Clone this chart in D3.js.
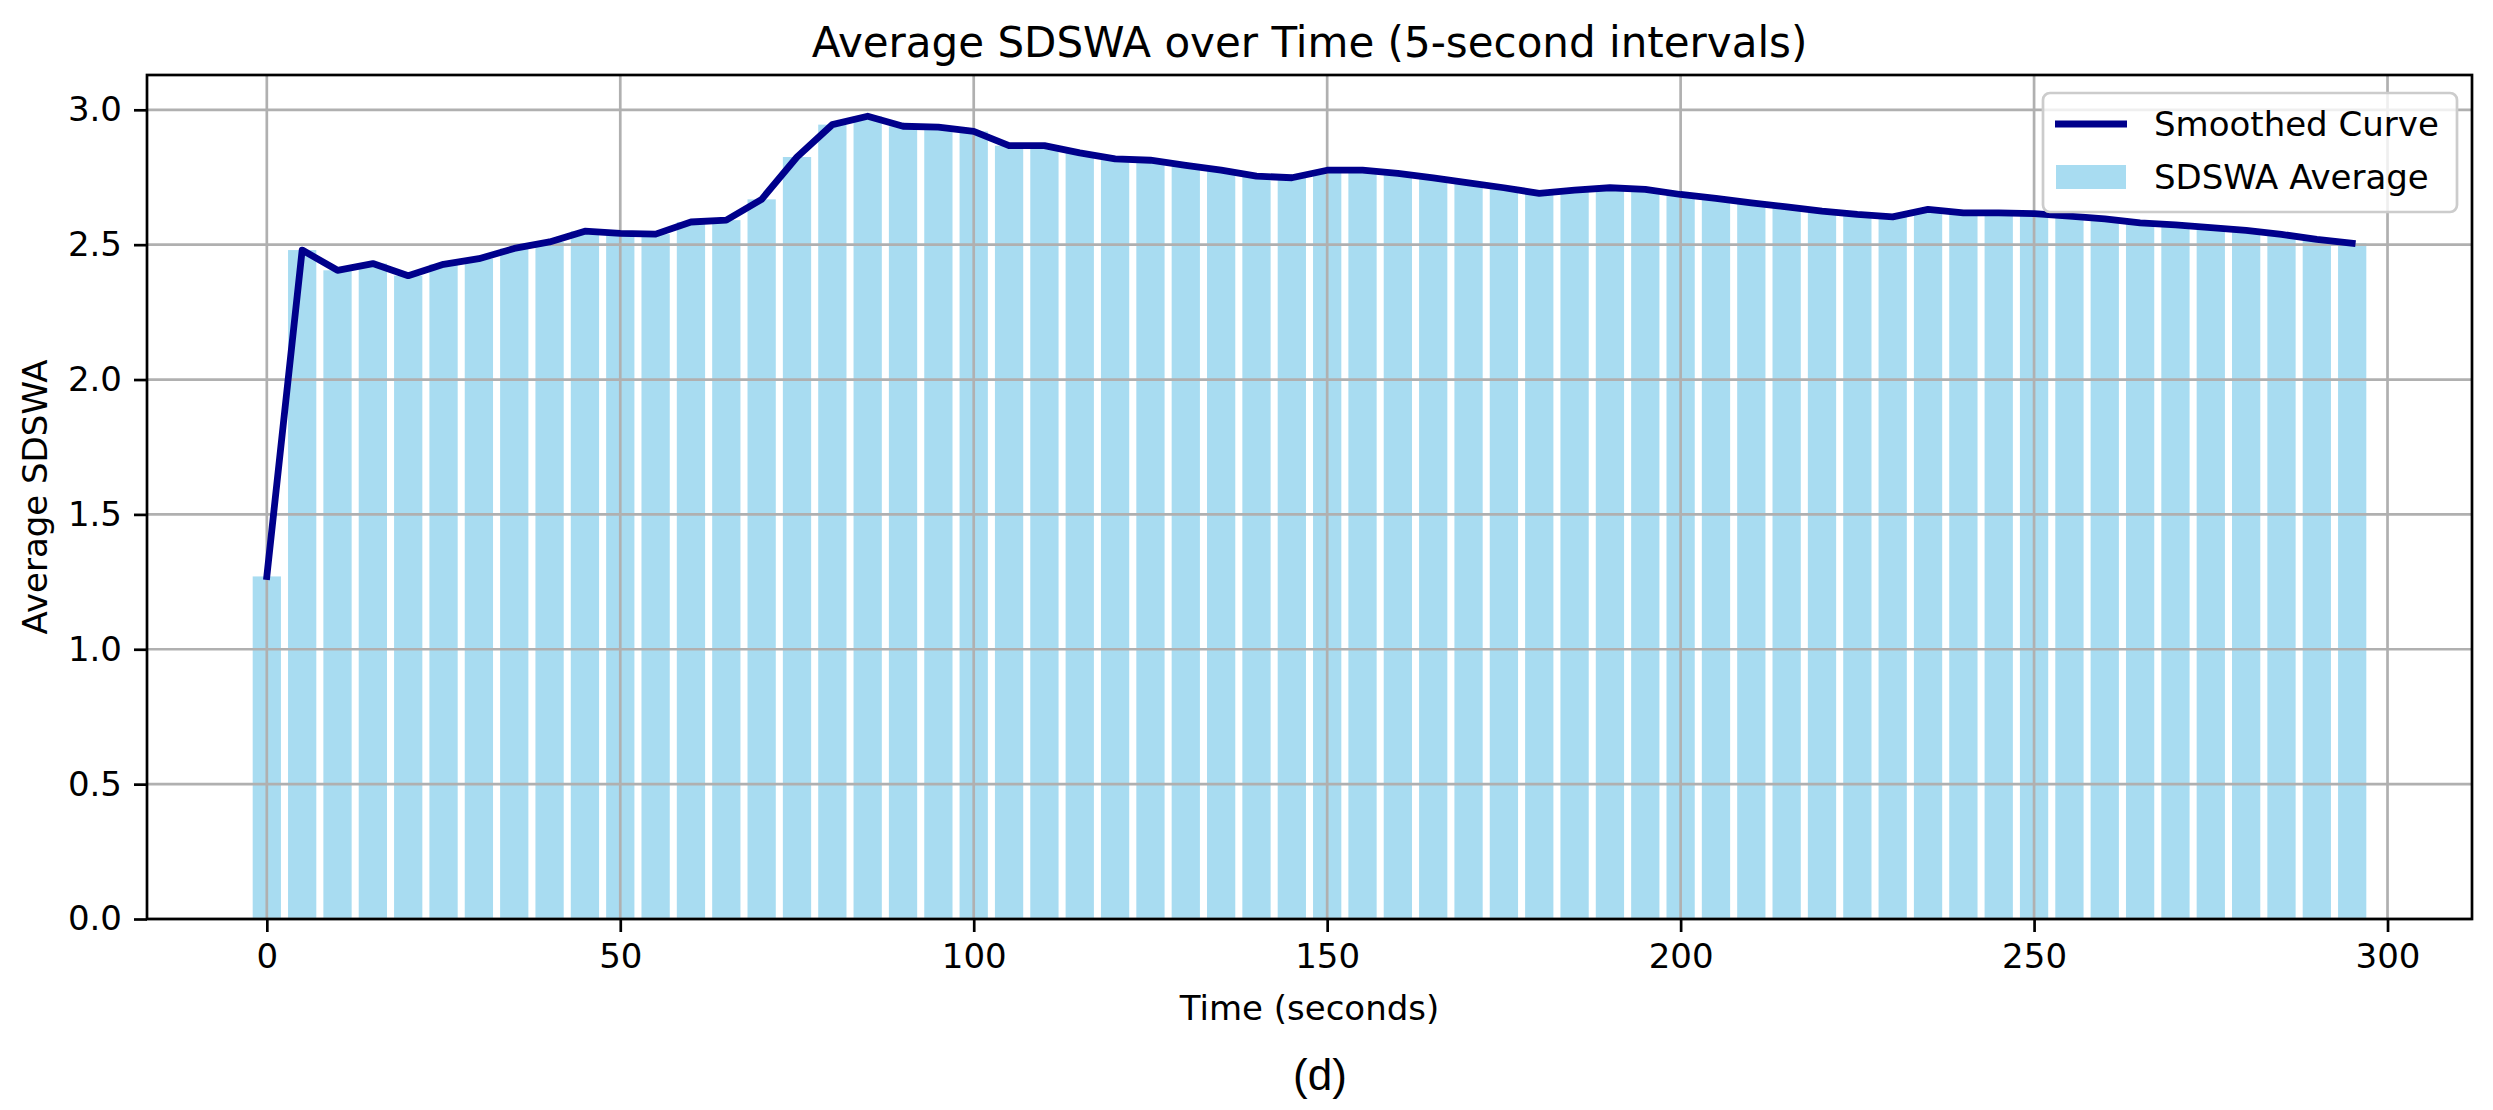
<!DOCTYPE html>
<html>
<head>
<meta charset="utf-8">
<script src="https://cdn.jsdelivr.net/npm/d3@7/dist/d3.min.js"></script>
<style>
  html, body { margin: 0; padding: 0; background: #ffffff; }
  svg { display: block; }
  text { font-family: "DejaVu Sans", sans-serif; fill: #000; }
</style>
</head>
<body>
<svg id="chart" width="2493" height="1110"></svg>
<script>
// ---- data ----
const times = [0,5,10,15,20,25,30,35,40,45,50,55,60,65,70,75,80,85,90,95,
  100,105,110,115,120,125,130,135,140,145,150,155,160,165,170,175,180,185,190,195,
  200,205,210,215,220,225,230,235,240,245,250,255,260,265,270,275,280,285,290,295];
const sdswaAverage = [1.27,2.48,2.405,2.43,2.385,2.427,2.448,2.486,2.51,2.55,
  2.542,2.539,2.584,2.591,2.668,2.825,2.945,2.976,2.939,2.936,
  2.92,2.867,2.867,2.84,2.818,2.813,2.794,2.776,2.754,2.748,
  2.776,2.776,2.764,2.748,2.729,2.711,2.69,2.702,2.711,2.705,
  2.686,2.672,2.655,2.64,2.624,2.612,2.603,2.631,2.618,2.618,
  2.615,2.606,2.596,2.581,2.573,2.563,2.553,2.538,2.52,2.505];
const smoothedCurve = sdswaAverage.slice();
const xTicks = [0,50,100,150,200,250,300];
const yTicks = [0.0,0.5,1.0,1.5,2.0,2.5,3.0];
const titleText = "Average SDSWA over Time (5-second intervals)";
const xLabel = "Time (seconds)";
const yLabel = "Average SDSWA";
const legendLabels = ["Smoothed Curve", "SDSWA Average"];
const panelLabel = "(d)";

// ---- layout ----
const L = 147, R = 2472, T = 75, B = 919;
const barWidth = 4;
const svg = d3.select("#chart");

const x = d3.scaleLinear().domain([-16.95, 311.95]).range([L, R]);
const y = d3.scaleLinear().domain([0, 3.129]).range([B, T]);

// bars
svg.append("g").selectAll("rect").data(times).join("rect")
  .attr("x", (d) => x(d - barWidth/2))
  .attr("width", x(barWidth) - x(0))
  .attr("y", (d, i) => y(sdswaAverage[i]))
  .attr("height", (d, i) => y(0) - y(sdswaAverage[i]))
  .attr("fill", "#87CEEB")
  .attr("fill-opacity", 0.72);

// grid
const grid = svg.append("g");
grid.selectAll("line.v").data(xTicks).join("line")
  .attr("x1", d => x(d)).attr("x2", d => x(d))
  .attr("y1", T).attr("y2", B)
  .attr("stroke", "#b0b0b0").attr("stroke-width", 2.7);
grid.selectAll("line.h").data(yTicks).join("line")
  .attr("x1", L).attr("x2", R)
  .attr("y1", d => y(d)).attr("y2", d => y(d))
  .attr("stroke", "#b0b0b0").attr("stroke-width", 2.7);

// line
const line = d3.line().x((d, i) => x(times[i])).y(d => y(d));
svg.append("path").datum(smoothedCurve)
  .attr("d", line)
  .attr("fill", "none")
  .attr("stroke", "#00008B")
  .attr("stroke-width", 6.8)
  .attr("stroke-linejoin", "round")
  .attr("stroke-linecap", "square");

// axes
const xAxis = d3.axisBottom(x).tickValues(xTicks).tickFormat(d3.format("d"))
  .tickSizeInner(13).tickSizeOuter(0).tickPadding(12);
const yAxis = d3.axisLeft(y).tickValues(yTicks).tickFormat(d3.format(".1f"))
  .tickSizeInner(13).tickSizeOuter(0).tickPadding(12);

const gx = svg.append("g").attr("transform", `translate(0,${B})`).call(xAxis);
const gy = svg.append("g").attr("transform", `translate(${L},0)`).call(yAxis);
[gx, gy].forEach(g => {
  g.select(".domain").remove();
  g.selectAll(".tick line").attr("stroke", "#000").attr("stroke-width", 2.7);
  g.selectAll(".tick text").style("font-family", '"DejaVu Sans", sans-serif')
    .style("font-size", "34px").attr("fill", "#000");
});

// frame
svg.append("rect").attr("x", L).attr("y", T).attr("width", R - L).attr("height", B - T)
  .attr("fill", "none").attr("stroke", "#000").attr("stroke-width", 2.7);

// title & labels
svg.append("text").attr("x", (L + R)/2).attr("y", 57)
  .attr("text-anchor", "middle").style("font-size", "42px").text(titleText);
svg.append("text").attr("x", (L + R)/2).attr("y", 1020)
  .attr("text-anchor", "middle").style("font-size", "34px").text(xLabel);
svg.append("text").attr("transform", `translate(47,${(T + B)/2}) rotate(-90)`)
  .attr("text-anchor", "middle").style("font-size", "34px").text(yLabel);
svg.append("text").attr("x", 1320).attr("y", 1090)
  .attr("text-anchor", "middle")
  .style("font-family", '"Liberation Sans", Arial, sans-serif')
  .style("font-size", "44px").text(panelLabel);

// legend
const lg = svg.append("g");
lg.append("rect").attr("x", 2043).attr("y", 93).attr("width", 414).attr("height", 119)
  .attr("rx", 7).attr("fill", "#fff").attr("fill-opacity", 0.8)
  .attr("stroke", "#cccccc").attr("stroke-width", 2.7);
lg.append("line").attr("x1", 2055).attr("x2", 2127).attr("y1", 124).attr("y2", 124)
  .attr("stroke", "#00008B").attr("stroke-width", 6.8);
lg.append("rect").attr("x", 2056).attr("y", 165).attr("width", 70).attr("height", 24)
  .attr("fill", "#87CEEB").attr("fill-opacity", 0.72);
lg.append("text").attr("x", 2154).attr("y", 136).style("font-size", "34px").text(legendLabels[0]);
lg.append("text").attr("x", 2154).attr("y", 189).style("font-size", "34px").text(legendLabels[1]);
</script>
</body>
</html>
